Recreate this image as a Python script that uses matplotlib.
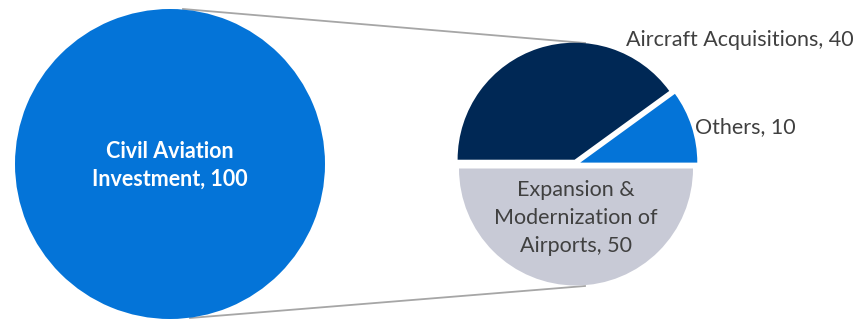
import matplotlib.pyplot as plt

# total on the left, breakdown on the right
total_label = "Civil Aviation\nInvestment, 100"
total_value = [100]

parts = ["Aircraft Acquisitions", "Others", "Expansion &\nModernization of\nAirports"]
values = [40, 10, 50]
colors = ["#002855", "#0474D8", "#C8CAD6"]

plt.rcParams['font.family'] = ['Lato', 'DejaVu Sans']

W, H = 861, 320
fig = plt.figure(figsize=(W / 100, H / 100), dpi=100)
ax = fig.add_axes([0, 0, 1, 1])

# big circle for the total
big_c, big_r = (170, 156), 155
ax.pie(total_value, colors=["#0474D8"], center=big_c, radius=big_r,
       wedgeprops=dict(linewidth=0))
ax.text(big_c[0], H - 165.5, total_label, ha="center", va="center",
        color="white", fontsize=15.5, fontweight="bold", linespacing=1.4)

# breakdown pie (explode is in data units here, i.e. pixels)
pie_c, pie_r = (576, 156), 117
wedges, _ = ax.pie(values, colors=colors, center=pie_c, radius=pie_r,
                   startangle=180, counterclock=False,
                   explode=[4.5, 4.5, 4.5],
                   wedgeprops=dict(linewidth=0))

# connector lines between the two circles
ax.plot([183, 585], [H - 9, H - 43], color="#A6A6A6", lw=1.3, zorder=0)
ax.plot([190, 585], [H - 318, H - 286], color="#A6A6A6", lw=1.3, zorder=0)

txt = "#404040"
ax.text(626, H - 40, f"{parts[0]}, {values[0]}", ha="left", va="center",
        color=txt, fontsize=15.5)
ax.text(695, H - 127, f"{parts[1]}, {values[1]}", ha="left", va="center",
        color=txt, fontsize=15.5)
ax.text(576, H - 218, f"{parts[2]}, {values[2]}", ha="center", va="center",
        color=txt, fontsize=15.5, linespacing=1.5)

ax.set_xlim(0, W)
ax.set_ylim(0, H)
ax.set_aspect("auto")
ax.axis("off")

fig.savefig("out.png", dpi=100, facecolor="white")
